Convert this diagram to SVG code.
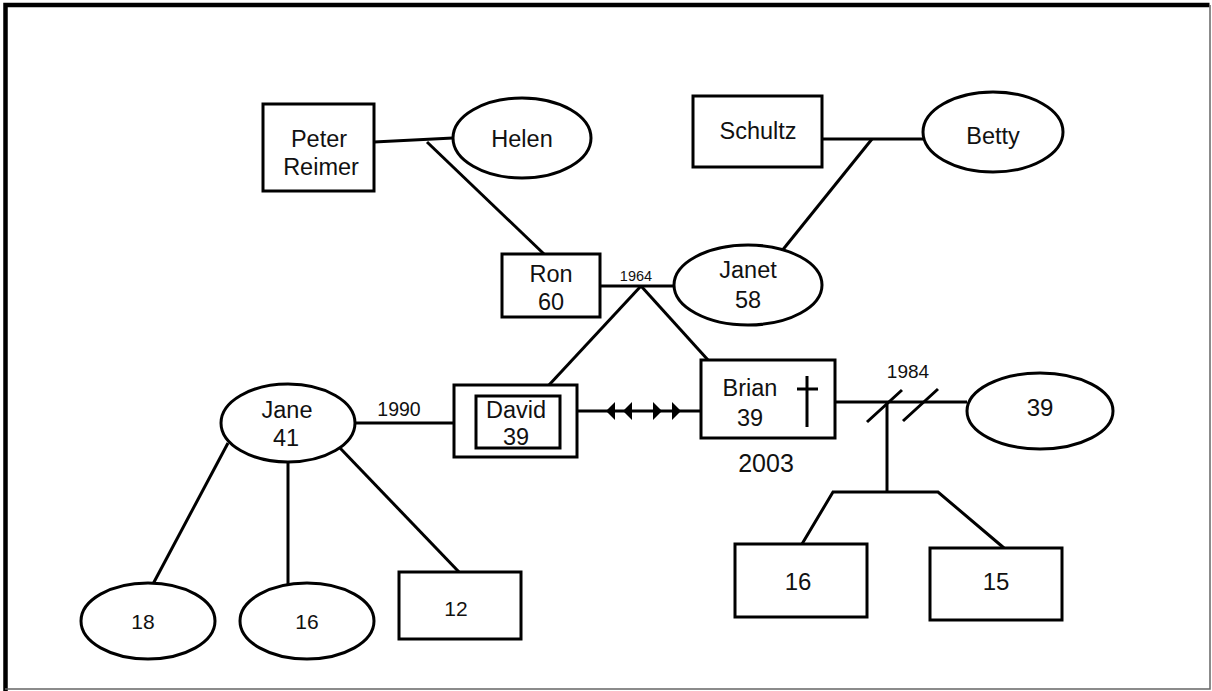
<svg xmlns="http://www.w3.org/2000/svg" width="1212" height="691" viewBox="0 0 1212 691">
<style>
.n{fill:#fff;stroke:#000;stroke-width:3}
.c{fill:none;stroke:#000;stroke-width:3}
.t{font-family:"Liberation Sans",Arial,sans-serif;font-size:23.5px;fill:#111;text-anchor:middle}
</style>
<defs>
<polygon id="tl" points="0,0 9,-9 9,9"/>
<polygon id="tr" points="0,0 -9,-9 -9,9"/>
</defs>
<rect width="1212" height="691" fill="#fff"/>
<g id="frame">
<path d="M5.5,691 V5 H1209.5" fill="none" stroke="#000" stroke-width="4.5"/>
<path d="M1210,5 V689 H5" fill="none" stroke="#666" stroke-width="1.5"/>
</g>
<g id="connectors">
<path class="c" d="M374,142 L453,138" stroke-width="3.5"/>
<path class="c" d="M427,142 L544,254"/>
<path class="c" d="M822,139 H923"/>
<path class="c" d="M872,139 L781,252"/>
<path class="c" d="M600,286 H674"/>
<path class="c" d="M641,286 L549,385"/>
<path class="c" d="M641,286 L708,360"/>
<path class="c" d="M355,423 H454"/>
<path class="c" d="M577,411 H701"/>
<use href="#tl" x="606" y="411"/>
<use href="#tl" x="623" y="411"/>
<use href="#tr" x="662" y="411"/>
<use href="#tr" x="681" y="411"/>
<path class="c" d="M835,402 H967"/>
<path class="c" d="M867,422 L902,390 M903,421 L938,389"/>
<path class="c" d="M887,402 V492"/>
<path class="c" d="M802,544 L833,492 H938 L1004,548"/>
<path class="c" d="M228,443 L153,584" stroke-width="4"/>
<path class="c" d="M288,462 V584"/>
<path class="c" d="M340,448 L459,572"/>
<text class="t" x="636" y="281" style="font-size:14.5px">1964</text>
<text class="t" x="399" y="416" style="font-size:19.5px">1990</text>
<text class="t" x="908" y="378" style="font-size:19px">1984</text>
</g>
<g id="peter"><rect class="n" x="263" y="104" width="111" height="87" stroke-width="3.5"/><text class="t" x="319" y="147">Peter</text><text class="t" x="321" y="175">Reimer</text></g>
<g id="helen"><ellipse class="n" cx="522" cy="138" rx="69" ry="40"/><text class="t" x="522" y="147">Helen</text></g>
<g id="schultz"><rect class="n" x="693" y="96" width="129" height="71" stroke-width="2.5"/><text class="t" x="758" y="139">Schultz</text></g>
<g id="betty"><ellipse class="n" cx="993" cy="132" rx="70" ry="40"/><text class="t" x="993" y="144">Betty</text></g>
<g id="ron"><rect class="n" x="502" y="254" width="98" height="63"/><text class="t" x="551" y="282">Ron</text><text class="t" x="551" y="310">60</text></g>
<g id="janet"><ellipse class="n" cx="748" cy="285" rx="74" ry="40"/><text class="t" x="748" y="278">Janet</text><text class="t" x="748" y="308">58</text></g>
<g id="david"><rect class="n" x="454" y="385" width="123" height="72"/><rect class="n" x="476" y="396" width="84" height="52" stroke-width="2"/><text class="t" x="516" y="418">David</text><text class="t" x="516" y="445">39</text></g>
<g id="brian"><rect class="n" x="701" y="360" width="134" height="78"/><text class="t" x="750" y="396">Brian</text><text class="t" x="750" y="426">39</text><path class="c" d="M807,376 V427 M797,389 H818"/><text class="t" x="766" y="472" style="font-size:25px">2003</text></g>
<g id="ex"><ellipse class="n" cx="1040" cy="411" rx="73" ry="38"/><text class="t" x="1040" y="416" style="font-size:24px">39</text></g>
<g id="jane"><ellipse class="n" cx="288" cy="423" rx="67" ry="39"/><text class="t" x="287" y="418">Jane</text><text class="t" x="286" y="446">41</text></g>
<g id="c18"><ellipse class="n" cx="148" cy="621" rx="67" ry="38"/><text class="t" x="143" y="629" style="font-size:21px">18</text></g>
<g id="c16a"><ellipse class="n" cx="307" cy="621" rx="67" ry="38"/><text class="t" x="307" y="629" style="font-size:21px">16</text></g>
<g id="c12"><rect class="n" x="399" y="572" width="122" height="67"/><text class="t" x="456" y="616" style="font-size:21px">12</text></g>
<g id="c16b"><rect class="n" x="735" y="544" width="132" height="73"/><text class="t" x="798" y="590" style="font-size:24px">16</text></g>
<g id="c15"><rect class="n" x="930" y="548" width="132" height="72"/><text class="t" x="996" y="590" style="font-size:24px">15</text></g>
</svg>
